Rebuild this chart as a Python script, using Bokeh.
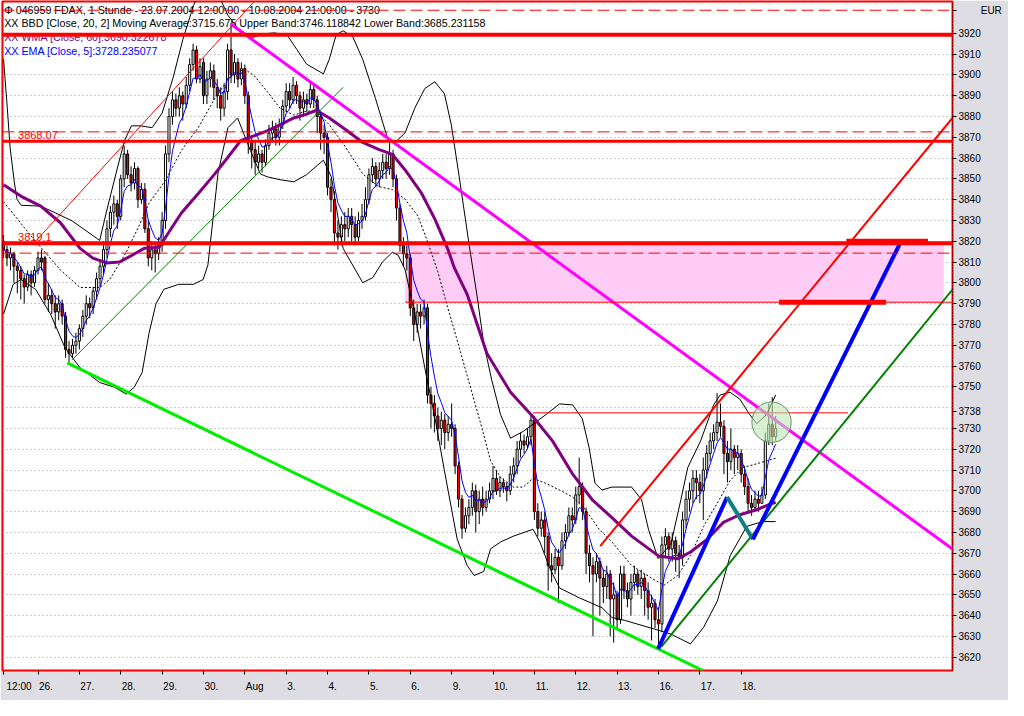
from bokeh.plotting import figure
from bokeh.models import Range1d, FixedTicker, Span
from bokeh.core.properties import value
from bokeh.embed import file_html
from bokeh.resources import INLINE

FONT = "Liberation Sans"

# ---------------- hourly FDAX candles (one list per trading day) ----------------
day_labels = ["12:00", "26.", "27.", "28.", "29.", "30.", "Aug", "3.", "4.", "5.",
              "6.", "9.", "10.", "11.", "12.", "13.", "16.", "17.", "18."]

opens_by_day = [
    [3820, 3816, 3812, 3814, 3808, 3806, 3802, 3798, 3804, 3800],
    [3806, 3812, 3812, 3792, 3794, 3790, 3786, 3790, 3784, 3768, 3766, 3770],
    [3772, 3778, 3784, 3790, 3788, 3796, 3802, 3808, 3816, 3826, 3834, 3838],
    [3832, 3850, 3862, 3852, 3848, 3855, 3840, 3845, 3826, 3812, 3816, 3814],
    [3818, 3830, 3862, 3880, 3888, 3884, 3890, 3886, 3895, 3905, 3912, 3898],
    [3906, 3890, 3898, 3902, 3894, 3890, 3884, 3892, 3912, 3900, 3906, 3898],
    [3903, 3890, 3868, 3864, 3858, 3862, 3858, 3866, 3872, 3874, 3870, 3876],
    [3885, 3892, 3888, 3895, 3890, 3884, 3888, 3886, 3893, 3888, 3880, 3872],
    [3870, 3846, 3840, 3824, 3822, 3828, 3826, 3832, 3828, 3822, 3830, 3832],
    [3840, 3852, 3856, 3850, 3854, 3858, 3855, 3862, 3850, 3836, 3818, 3814],
    [3812, 3788, 3780, 3786, 3784, 3788, 3746, 3742, 3736, 3730, 3734, 3728],
    [3732, 3730, 3712, 3696, 3682, 3688, 3692, 3700, 3690, 3696, 3692, 3696],
    [3700, 3706, 3700, 3704, 3702, 3700, 3708, 3712, 3720, 3724, 3722, 3726],
    [3734, 3690, 3682, 3686, 3678, 3664, 3662, 3668, 3664, 3676, 3680, 3688],
    [3686, 3698, 3702, 3690, 3670, 3664, 3660, 3666, 3658, 3654, 3660, 3648],
    [3650, 3638, 3660, 3652, 3648, 3656, 3660, 3654, 3658, 3652, 3644, 3646],
    [3638, 3636, 3674, 3678, 3672, 3676, 3670, 3668, 3686, 3696, 3700, 3706],
    [3704, 3700, 3710, 3718, 3724, 3728, 3733, 3731, 3718, 3714, 3720, 3716],
    [3718, 3708, 3702, 3694, 3692, 3696, 3694, 3698, 3724, 3732, 3726],
]
highs_by_day = [
    [3823, 3818, 3817, 3815, 3810, 3808, 3804, 3806, 3806, 3808],
    [3815, 3816, 3813, 3800, 3797, 3794, 3794, 3792, 3786, 3772, 3773, 3776],
    [3780, 3787, 3794, 3793, 3798, 3805, 3811, 3820, 3830, 3837, 3842, 3840],
    [3852, 3866, 3864, 3856, 3858, 3856, 3848, 3848, 3830, 3820, 3819, 3822],
    [3834, 3866, 3884, 3892, 3891, 3894, 3892, 3899, 3908, 3915, 3914, 3908],
    [3908, 3902, 3906, 3905, 3898, 3894, 3896, 3915, 3925, 3910, 3908, 3906],
    [3905, 3892, 3870, 3868, 3866, 3864, 3869, 3876, 3878, 3877, 3879, 3888],
    [3896, 3896, 3899, 3897, 3892, 3892, 3891, 3897, 3895, 3890, 3882, 3876],
    [3872, 3850, 3844, 3830, 3832, 3834, 3836, 3836, 3832, 3834, 3838, 3846],
    [3855, 3860, 3858, 3858, 3862, 3862, 3868, 3864, 3852, 3838, 3822, 3818],
    [3814, 3792, 3790, 3790, 3792, 3790, 3750, 3746, 3740, 3738, 3737, 3736],
    [3742, 3732, 3714, 3698, 3692, 3696, 3704, 3703, 3700, 3702, 3700, 3704],
    [3712, 3710, 3707, 3706, 3704, 3712, 3716, 3724, 3728, 3727, 3730, 3737],
    [3736, 3694, 3690, 3690, 3680, 3670, 3672, 3672, 3680, 3684, 3692, 3692],
    [3702, 3716, 3704, 3692, 3674, 3668, 3670, 3668, 3662, 3664, 3662, 3656],
    [3652, 3664, 3664, 3656, 3660, 3664, 3662, 3662, 3660, 3656, 3650, 3648],
    [3644, 3678, 3682, 3680, 3680, 3678, 3674, 3690, 3700, 3704, 3710, 3710],
    [3708, 3716, 3722, 3728, 3732, 3747, 3742, 3734, 3724, 3730, 3722, 3722],
    [3720, 3712, 3706, 3698, 3700, 3700, 3702, 3728, 3742, 3745, 3736],
]
lows_by_day = [
    [3812, 3808, 3806, 3800, 3795, 3792, 3790, 3796, 3794, 3798],
    [3804, 3806, 3790, 3786, 3785, 3778, 3782, 3780, 3764, 3761, 3764, 3766],
    [3768, 3774, 3780, 3783, 3785, 3792, 3798, 3804, 3812, 3822, 3828, 3826],
    [3830, 3846, 3850, 3844, 3845, 3836, 3838, 3824, 3808, 3806, 3805, 3811],
    [3815, 3826, 3858, 3876, 3880, 3880, 3878, 3884, 3892, 3902, 3896, 3896],
    [3886, 3886, 3894, 3888, 3884, 3878, 3880, 3888, 3896, 3896, 3894, 3895],
    [3886, 3862, 3855, 3852, 3855, 3853, 3856, 3864, 3868, 3866, 3866, 3874],
    [3882, 3884, 3886, 3886, 3878, 3880, 3882, 3884, 3884, 3872, 3864, 3862],
    [3842, 3834, 3818, 3816, 3818, 3820, 3822, 3820, 3818, 3820, 3826, 3830],
    [3838, 3848, 3846, 3846, 3850, 3850, 3852, 3846, 3830, 3815, 3808, 3806],
    [3784, 3772, 3776, 3778, 3780, 3742, 3730, 3728, 3724, 3722, 3720, 3724],
    [3726, 3708, 3692, 3677, 3680, 3684, 3688, 3680, 3684, 3688, 3690, 3694],
    [3696, 3698, 3697, 3699, 3695, 3698, 3704, 3708, 3716, 3718, 3720, 3722],
    [3686, 3678, 3678, 3670, 3652, 3656, 3660, 3646, 3662, 3672, 3678, 3680],
    [3684, 3694, 3686, 3660, 3656, 3630, 3656, 3640, 3646, 3648, 3630, 3627],
    [3634, 3636, 3648, 3644, 3640, 3652, 3650, 3648, 3640, 3638, 3628, 3634],
    [3625, 3632, 3668, 3666, 3666, 3661, 3658, 3664, 3682, 3690, 3694, 3696],
    [3694, 3686, 3706, 3714, 3720, 3724, 3726, 3708, 3704, 3710, 3708, 3710],
    [3704, 3698, 3690, 3688, 3690, 3690, 3694, 3696, 3722, 3722, 3724],
]
closes_by_day = [
    [3816, 3812, 3814, 3808, 3806, 3802, 3798, 3804, 3800, 3806],
    [3812, 3810, 3792, 3794, 3790, 3786, 3790, 3784, 3768, 3766, 3770, 3772],
    [3778, 3784, 3790, 3788, 3796, 3802, 3808, 3816, 3826, 3834, 3838, 3832],
    [3850, 3862, 3852, 3848, 3855, 3840, 3845, 3826, 3812, 3816, 3814, 3818],
    [3830, 3862, 3880, 3888, 3884, 3890, 3886, 3895, 3905, 3912, 3898, 3904],
    [3890, 3898, 3902, 3894, 3890, 3884, 3892, 3912, 3900, 3906, 3898, 3903],
    [3890, 3868, 3864, 3858, 3862, 3858, 3866, 3872, 3874, 3870, 3876, 3885],
    [3892, 3888, 3895, 3890, 3884, 3888, 3886, 3893, 3888, 3880, 3872, 3870],
    [3846, 3840, 3824, 3822, 3828, 3826, 3832, 3828, 3822, 3830, 3832, 3840],
    [3852, 3856, 3850, 3854, 3858, 3855, 3862, 3850, 3836, 3818, 3814, 3812],
    [3788, 3780, 3786, 3784, 3788, 3746, 3742, 3736, 3730, 3734, 3728, 3732],
    [3730, 3712, 3696, 3682, 3688, 3692, 3700, 3690, 3696, 3692, 3696, 3700],
    [3706, 3700, 3704, 3702, 3700, 3708, 3712, 3720, 3724, 3722, 3726, 3734],
    [3690, 3682, 3686, 3678, 3664, 3662, 3668, 3664, 3676, 3680, 3688, 3686],
    [3698, 3702, 3690, 3670, 3664, 3660, 3666, 3658, 3654, 3660, 3648, 3650],
    [3638, 3660, 3652, 3648, 3656, 3660, 3654, 3658, 3652, 3644, 3646, 3638],
    [3636, 3674, 3678, 3672, 3676, 3670, 3668, 3686, 3696, 3700, 3706, 3704],
    [3700, 3710, 3718, 3724, 3728, 3733, 3731, 3718, 3714, 3720, 3716, 3718],
    [3708, 3702, 3694, 3692, 3696, 3694, 3698, 3724, 3732, 3726, 3730],
]

# ---------------- indicator lines (bar index, price) ----------------
wma_bar = [0, 5.1, 10.8, 16.5, 22.2, 25.9, 29.9, 33.6, 37.3, 40.8, 45.1, 47.9, 51.6, 56.5,
           61.3, 65.1, 68.8, 72.8, 76.5, 80.2, 84.2, 87.9, 90.8, 94.5, 99.3, 104.2, 108.8,
           112.8, 116.5, 121.3, 125.1, 128.8, 130.8, 134.5, 140.2, 147.1, 153.6, 159.3, 165.0,
           170.8, 176.5, 182.2, 190.0, 195.6, 199.3, 204.2, 208.8, 213.6, 218.5, 222.2, 224]
wma_val = [3847.2, 3841.6, 3836.9, 3828.9, 3816.6, 3811.9, 3809.6, 3810.0, 3813.3, 3816.6,
           3817.1, 3824.2, 3833.6, 3843.0, 3852.4, 3860.4, 3868.4, 3870.8, 3873.1, 3876.0,
           3879.3, 3881.1, 3883.0, 3879.3, 3873.6, 3867.5, 3864.2, 3861.8, 3854.3, 3843.0,
           3830.8, 3816.6, 3807.2, 3794.5, 3766.2, 3747.4, 3735.6, 3723.9, 3708.3, 3695.7,
           3687.1, 3678.2, 3668.7, 3667.3, 3670.6, 3676.8, 3684.8, 3688.5, 3690.9, 3693.5, 3694.5]

bb_up_bar = [0, 1.1, 1.9, 3.1, 3.9, 5.1, 10.8, 15.1, 19.9, 25.1, 27.9, 29.9, 33.1, 35.1, 37.1,
             39.9, 43.1, 46.0, 49.1, 52.0, 55.1, 57.1, 59.9, 63.1, 65.1, 67.9, 71.9, 75.9, 78.5,
             82.2, 85.1, 87.9, 92.8, 94.5, 96.5, 98.5, 101.3, 104.2, 107.9, 111.6, 113.6, 116.5,
             119.3, 122.2, 125.1, 127.9, 129.9, 132.2, 135.1, 137.3, 139.3, 141.6, 144.2, 147.1,
             150.8, 157.3, 161.3, 165.1, 167.9, 169.9, 171.6, 173.6, 176.5, 182.2, 185.1, 187.1,
             189.9, 193.6, 196.5, 198.5, 202.2, 206.0, 207.9, 210.8, 213.6, 216.5, 218.5, 221.3,
             224]
bb_up_val = [3907.5, 3884.0, 3865.1, 3848.7, 3840.2, 3837.3, 3836.9, 3833.6, 3829.8, 3823.7,
             3820.4, 3834.5, 3855.7, 3868.4, 3875.5, 3875.5, 3874.6, 3881.6, 3898.1, 3916.9,
             3933.4, 3940.5, 3942.9, 3935.8, 3928.7, 3922.6, 3917.9, 3919.8, 3920.2, 3919.3,
             3912.2, 3905.2, 3900.5, 3907.5, 3919.3, 3921.2, 3918.4, 3907.5, 3888.7, 3868.4,
             3867.5, 3872.2, 3884.0, 3893.4, 3896.7, 3891.0, 3876.0, 3851.0, 3818.0, 3794.5,
             3771.0, 3753.5, 3736.6, 3725.3, 3728.6, 3736.6, 3741.8, 3741.3, 3734.7, 3720.6,
             3703.6, 3700.4, 3701.8, 3701.8, 3695.7, 3681.5, 3667.4, 3674.4, 3695.7, 3711.2,
             3723.9, 3741.3, 3746.1, 3747.4, 3744.1, 3736.6, 3732.3, 3736.6, 3746.1]

bb_lo_bar = [0, 2.8, 5.1, 9.3, 13.6, 17.9, 22.2, 27.9, 32.2, 35.6, 37.9, 40.2, 42.2, 44.2,
             46.5, 50.8, 55.1, 57.9, 59.3, 62.2, 65.1, 67.9, 71.6, 74.5, 76.5, 80.2, 84.2,
             87.9, 92.8, 95.1, 98.5, 104.2, 107.1, 109.9, 112.8, 114.5, 116.5, 119.3, 122.2,
             125.1, 127.9, 131.6, 134.5, 136.5, 139.3, 141.3, 144.2, 147.9, 153.6, 155.6, 158.5,
             161.3, 167.1, 173.6, 176.5, 180.2, 189.9, 193.6, 199.3, 203.1, 207.1, 210.8, 215.6,
             220.2, 224]
bb_lo_val = [3785.0, 3799.3, 3801.6, 3796.9, 3785.1, 3768.6, 3759.2, 3752.1, 3749.8, 3746.5,
             3749.8, 3756.8, 3775.7, 3789.8, 3796.9, 3799.3, 3799.3, 3801.6, 3808.7, 3852.4,
             3874.6, 3879.3, 3863.7, 3852.4, 3851.0, 3849.6, 3848.6, 3852.0, 3859.0, 3851.0,
             3816.6, 3800.1, 3802.5, 3810.0, 3814.7, 3813.3, 3806.3, 3785.1, 3759.2, 3735.6,
             3709.7, 3676.8, 3664.1, 3659.3, 3661.2, 3672.1, 3675.4, 3678.2, 3681.5, 3675.4,
             3662.7, 3653.3, 3648.5, 3643.8, 3639.1, 3637.7, 3633.0, 3631.1, 3626.4, 3634.4,
             3647.1, 3668.8, 3682.9, 3685.2, 3685.2]

bb_mid_bar = [0, 7.9, 16.5, 22.2, 27.9, 30.8, 35.6, 39.3, 42.2, 47.1, 51.6, 56.5, 61.3, 65.9,
              69.9, 72.8, 76.5, 80.2, 84.2, 87.9, 90.8, 94.5, 99.3, 104.2, 108.8, 112.8, 116.5,
              120.2, 123.1, 126.0, 128.8, 130.8, 134.5, 138.5, 141.3, 144.2, 147.9, 150.8, 153.6,
              157.3, 161.3, 165.1, 168.8, 172.8, 176.5, 182.2, 188.0, 191.6, 195.6, 199.3, 203.1,
              207.1, 210.8, 214.5, 218.5, 224]
bb_mid_val = [3839.0, 3822.7, 3806.2, 3797.8, 3797.8, 3801.6, 3814.7, 3827.4, 3838.3, 3849.6,
              3863.7, 3874.6, 3888.7, 3899.5, 3902.8, 3899.5, 3892.0, 3884.0, 3880.7, 3882.6,
              3882.6, 3876.0, 3865.1, 3852.4, 3846.3, 3844.9, 3840.2, 3832.2, 3819.4, 3805.3,
              3788.4, 3777.1, 3755.4, 3731.9, 3714.4, 3706.4, 3701.8, 3701.8, 3706.0, 3703.6,
              3700.4, 3697.0, 3691.0, 3681.5, 3675.4, 3664.1, 3658.0, 3654.6, 3659.3, 3668.8,
              3682.9, 3694.2, 3705.0, 3711.2, 3713.0, 3715.7]

# ---------------- drawing tools (bar index, price) ----------------
lime_line = [(18.5, 3761.5), (203.2, 3613.3)]
green_thin_line = [(19.9, 3763.0), (98.5, 3894.0)]
red_thin_line = [(8.8, 3819.1), (73.0, 3935.8)]
magenta_line = [(65.9, 3924.5), (275.3, 3672.0)]
red_channel_line = [(173.1, 3673.4), (275.3, 3879.3)]
green_channel_line = [(190.8, 3625.0), (275.3, 3796.8)]
blue_leg1 = [(189.9, 3624.0), (209.9, 3697.0)]
teal_leg = [(209.9, 3697.0), (217.4, 3676.7)]
blue_leg2 = [(217.4, 3676.7), (260.2, 3819.4)]

hlines_solid = [3919.3, 3868.07, 3819.1]
hlines_dashed = [3931.1, 3872.6, 3814.3]
hline_labels = ["3868.07", "3819.1"]
zone = {"left": 116.5, "right": 272.8, "bottom": 3790.7, "top": 3819.1}
zone_floor = [(116.5, 3790.7), (275.3, 3790.7)]
marker_3738 = [(153.6, 3737.5), (245.0, 3737.5)]
target_upper = [(244.5, 3820.0), (268.2, 3820.0)]
target_lower = [(225.0, 3790.7), (256.0, 3790.7)]
circle_center = (222.8, 3733.0)
price_ticks = list(range(3620, 3930, 10))
tag_value = 3738
currency = "EUR"
currency_level = 3931.1

legend_texts = [
    "\u03a6 046959  FDAX, 1 Stunde - 23.07.2004 12:00:00 - 10.08.2004 21:00:00 - 3730",
    "XX BBD [Close, 20, 2] Moving Average:3715.675 Upper Band:3746.118842 Lower Band:3685.231158",
    "XX WMA [Close, 60]:3690.322678",
    "XX EMA [Close, 5]:3728.235077",
]
legend_colors = ["black", "black", "#800080", "#0000ff"]

# ---------------- flatten ----------------
opens = sum(opens_by_day, [])
highs = sum(highs_by_day, [])
lows = sum(lows_by_day, [])
closes = sum(closes_by_day, [])
n = len(closes)
bars = list(range(n))
day_start = []
acc = 0
for d in closes_by_day:
    day_start.append(acc)
    acc += len(d)

# EMA(5) of the closes, as in the legend
ema = []
e = closes[0]
for c in closes:
    e = e + (c - e) * 2.0 / 6.0
    ema.append(e)

# ---------------- figure ----------------
W, H = 1008, 700
BL, BR, BT, BB = 2, 56, 1, 30
X0, X1 = -0.3, 275.3
Y0, Y1 = 3613.6, 3935.3

p = figure(width=W, height=H, output_backend="svg", toolbar_location=None,
           x_range=Range1d(X0, X1), y_range=Range1d(Y0, Y1),
           y_axis_location="right", min_border_left=BL, min_border_right=BR,
           min_border_top=BT, min_border_bottom=BB)
p.background_fill_color = "white"
p.border_fill_color = "#dddde3"
p.outline_line_color = "#ff0000"
p.outline_line_width = 2

# y axis: price ticks, the marked 3738 level (covers 3740) and the currency caption
axis_ticks = [t for t in price_ticks if abs(t - tag_value) > 5] + [tag_value, currency_level]
p.yaxis.ticker = FixedTicker(ticks=axis_ticks)
p.yaxis.major_label_overrides = {currency_level: "\u00a0" * 8 + currency}
p.yaxis.axis_line_color = "black"
p.yaxis.axis_line_dash = "1 2"
p.yaxis.major_tick_out = 4
p.yaxis.major_tick_in = 0
p.yaxis.minor_tick_out = 0
p.yaxis.minor_tick_in = 0
p.yaxis.major_tick_line_color = "black"
p.yaxis.major_label_standoff = 2
p.yaxis.major_label_text_font = FONT
p.yaxis.major_label_text_font_size = "10px"
p.yaxis.major_label_text_color = "black"

# x axis: labels placed left-aligned after each day tick
px_per_bar = (W - BL - BR) / (X1 - X0)
cw = {".": 0.278, ":": 0.278, "A": 0.667, "u": 0.556, "g": 0.556}
label_pos = []
overrides = {}
for lab, b in zip(day_labels, day_start):
    wpx = sum(cw.get(ch, 0.556) for ch in lab) * 10
    off = (3 if lab == "12:00" else 1) + wpx / 2
    pos = round(b + off / px_per_bar, 3)
    label_pos.append(pos)
    overrides[pos] = lab
p.xaxis.ticker = FixedTicker(ticks=label_pos, minor_ticks=day_start)
p.xaxis.major_label_overrides = overrides
p.xaxis.axis_line_color = None
p.xaxis.major_tick_out = 0
p.xaxis.major_tick_in = 0
p.xaxis.minor_tick_out = 4
p.xaxis.minor_tick_in = 0
p.xaxis.minor_tick_line_color = "black"
p.xaxis.major_label_standoff = 6
p.xaxis.major_label_text_font = FONT
p.xaxis.major_label_text_font_size = "10px"
p.xaxis.major_label_text_color = "black"

p.xgrid.visible = False
p.ygrid.ticker = FixedTicker(ticks=price_ticks)
p.ygrid.grid_line_color = "#9a9a9a"
p.ygrid.grid_line_dash = "1 3"

# zone
p.quad(left=[zone["left"]], right=[zone["right"]], bottom=[zone["bottom"]], top=[zone["top"]],
       fill_color="#ffccf5", line_color=None)

# legend texts (under the lines)
leg_y = [3931.1, 3924.9, 3918.4, 3911.3]
p.text(x=[0.2] * 4, y=leg_y, text=legend_texts, text_color=legend_colors,
       text_font=value(FONT), text_font_size=value("10.7px"),
       text_align="left", text_baseline="middle")
p.text(x=[4.2, 4.2], y=[hlines_solid[1], hlines_solid[2]], text=hline_labels,
       text_color="#ff0000", text_font=value(FONT), text_font_size=value("11px"),
       text_align="left", text_baseline="bottom", y_offset=-2)

# candles
p.segment(x0=bars, y0=lows, x1=bars, y1=highs, line_color="black", line_width=1)
up = [i for i in bars if closes[i] >= opens[i]]
dn = [i for i in bars if closes[i] < opens[i]]
p.vbar(x=up, width=0.6, bottom=[opens[i] for i in up], top=[closes[i] for i in up],
       fill_color="white", line_color="black", line_width=1)
p.vbar(x=dn, width=0.6, bottom=[closes[i] for i in dn], top=[opens[i] for i in dn],
       fill_color="#ff0000", line_color="black", line_width=1)

# indicators
p.line(bb_up_bar, bb_up_val, line_color="black", line_width=1)
p.line(bb_lo_bar, bb_lo_val, line_color="black", line_width=1)
p.line(bb_mid_bar, bb_mid_val, line_color="black", line_width=1, line_dash="2 2")
p.line(wma_bar, wma_val, line_color="#800080", line_width=3)
p.line(bars, ema, line_color="#0000ff", line_width=1)


def seg(pts, **kw):
    (a, b), (c, d) = pts
    p.segment(x0=[a], y0=[b], x1=[c], y1=[d], **kw)


seg(lime_line, line_color="#00ee00", line_width=3)
seg(green_thin_line, line_color="#008000", line_width=1)
seg(red_thin_line, line_color="#ff0000", line_width=1)
seg(magenta_line, line_color="#ff00ff", line_width=3)
seg(red_channel_line, line_color="#ff0000", line_width=2)
seg(green_channel_line, line_color="#008000", line_width=2)
seg(zone_floor, line_color="#ff0000", line_width=1)
seg(marker_3738, line_color="#ff0000", line_width=1)
seg(blue_leg1, line_color="#0000ff", line_width=4)
seg(teal_leg, line_color="#108080", line_width=4)
seg(blue_leg2, line_color="#0000ff", line_width=4)
seg(target_upper, line_color="#ff0000", line_width=5)
seg(target_lower, line_color="#ff0000", line_width=5)

p.ellipse(x=[circle_center[0]], y=[circle_center[1]], width=11.4, height=19.5,
          fill_color="#bde8b5", fill_alpha=0.6, line_color="#6a8a6a", line_width=1)

for v, w in zip(hlines_solid, [4, 3, 4]):
    p.add_layout(Span(location=v, dimension="width", line_color="#ff0000", line_width=w))
for v in hlines_dashed:
    p.add_layout(Span(location=v, dimension="width", line_color="#ff0000", line_width=1,
                      line_dash="12 5"))

open("out.html", "w").write(file_html(p, INLINE))
